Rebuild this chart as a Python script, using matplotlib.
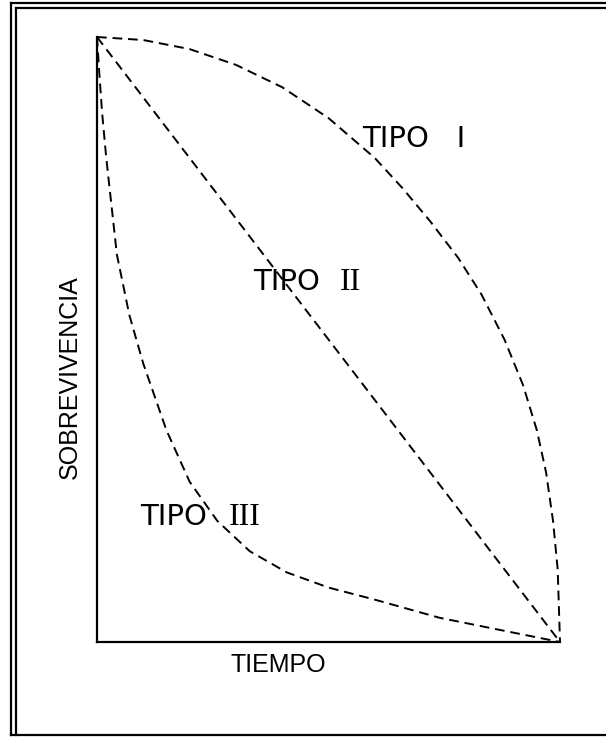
import matplotlib.pyplot as plt
from matplotlib.lines import Line2D

# curve values (tiempo 0..1, sobrevivencia 0..1)
tiempo_1 = [0, 0.1, 0.2, 0.3, 0.4, 0.5, 0.6, 0.66, 0.72, 0.78, 0.83, 0.88, 0.92, 0.95, 0.97, 0.985, 0.995, 1.0]
sobrev_1 = [1, 0.995, 0.98, 0.954, 0.917, 0.866, 0.80, 0.75, 0.695, 0.635, 0.575, 0.50, 0.425, 0.35, 0.28, 0.20, 0.12, 0.0]

tiempo_2 = [0, 1]
sobrev_2 = [1, 0]

tiempo_3 = [0, 0.005, 0.011, 0.02, 0.043, 0.07, 0.1, 0.15, 0.2, 0.26, 0.33, 0.41, 0.5, 0.6, 0.74, 0.87, 1.0]
sobrev_3 = [1, 0.94, 0.875, 0.80, 0.64, 0.54, 0.46, 0.35, 0.265, 0.20, 0.15, 0.115, 0.09, 0.07, 0.04, 0.02, 0.0]

fig = plt.figure(figsize=(6.06, 7.38), dpi=100)
W, H = 606, 738

ax = fig.add_axes([97 / W, 1 - 642 / H, 463 / W, 605 / H])
ax.set_xlim(0, 1)
ax.set_ylim(0, 1)
ax.margins(0)
for t, s in [(tiempo_1, sobrev_1), (tiempo_2, sobrev_2), (tiempo_3, sobrev_3)]:
    ax.plot(t, s, color='black', lw=1.4, dashes=(5, 3), clip_on=False)
ax.spines['top'].set_visible(False)
ax.spines['right'].set_visible(False)
ax.spines['left'].set_linewidth(1.6)
ax.spines['bottom'].set_linewidth(1.6)
ax.set_xticks([])
ax.set_yticks([])

# double frame round the picture
def fline(x0, y0, x1, y1, lw=1.6):
    fig.add_artist(Line2D([x0 / W, x1 / W], [1 - y0 / H, 1 - y1 / H],
                          color='black', lw=lw, transform=fig.transFigure))

fline(11, 3, 610, 3)
fline(16, 7.5, 610, 7.5)
fline(11, 3, 11, 735)
fline(16, 7.5, 16, 735)
fline(11, 735, 610, 735)

# labels
fig.text(70 / W, 1 - 377 / H, 'SOBREVIVENCIA', rotation=90, family='Liberation Sans',
         fontsize=18, ha='center', va='center')
fig.text(278 / W, 1 - 665 / H, 'TIEMPO', family='Liberation Sans',
         fontsize=18, ha='center', va='center')

fig.text(362 / W, 1 - 147 / H, 'TIPO   I', family='DejaVu Sans', fontsize=21, va='baseline')
fig.text(253 / W, 1 - 290 / H, 'TIPO', family='DejaVu Sans', fontsize=21, va='baseline')
fig.text(340 / W, 1 - 290 / H, 'II', family='Liberation Serif', fontsize=23, va='baseline')
fig.text(140 / W, 1 - 525 / H, 'TIPO', family='DejaVu Sans', fontsize=21, va='baseline')
fig.text(229 / W, 1 - 525 / H, 'III', family='Liberation Serif', fontsize=23, va='baseline')

fig.savefig('out.png', dpi=100)
